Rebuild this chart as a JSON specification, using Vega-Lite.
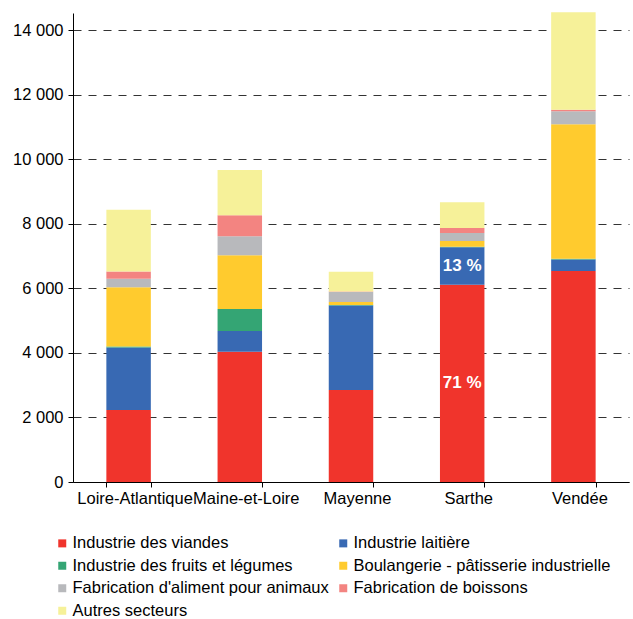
{
  "$schema": "https://vega.github.io/schema/vega-lite/v6.json",
  "width": 556,
  "height": 469,
  "autosize": "none",
  "padding": {"left": 73, "top": 13, "right": 4, "bottom": 137},
  "background": "white",
  "config": {"view": {"stroke": null}, "font": "Liberation Sans"},
  "datasets": {
    "sectors": [
      {"departement": "Loire-Atlantique", "secteur": "Industrie des viandes", "ordre": 1, "emplois": 2230},
      {"departement": "Loire-Atlantique", "secteur": "Industrie laitière", "ordre": 2, "emplois": 1940},
      {"departement": "Loire-Atlantique", "secteur": "Industrie des fruits et légumes", "ordre": 3, "emplois": 30},
      {"departement": "Loire-Atlantique", "secteur": "Boulangerie - pâtisserie industrielle", "ordre": 4, "emplois": 1830},
      {"departement": "Loire-Atlantique", "secteur": "Fabrication d'aliment pour animaux", "ordre": 5, "emplois": 270},
      {"departement": "Loire-Atlantique", "secteur": "Fabrication de boissons", "ordre": 6, "emplois": 225},
      {"departement": "Loire-Atlantique", "secteur": "Autres secteurs", "ordre": 7, "emplois": 1910},
      {"departement": "Maine-et-Loire", "secteur": "Industrie des viandes", "ordre": 1, "emplois": 4036},
      {"departement": "Maine-et-Loire", "secteur": "Industrie laitière", "ordre": 2, "emplois": 640},
      {"departement": "Maine-et-Loire", "secteur": "Industrie des fruits et légumes", "ordre": 3, "emplois": 680},
      {"departement": "Maine-et-Loire", "secteur": "Boulangerie - pâtisserie industrielle", "ordre": 4, "emplois": 1670},
      {"departement": "Maine-et-Loire", "secteur": "Fabrication d'aliment pour animaux", "ordre": 5, "emplois": 590},
      {"departement": "Maine-et-Loire", "secteur": "Fabrication de boissons", "ordre": 6, "emplois": 650},
      {"departement": "Maine-et-Loire", "secteur": "Autres secteurs", "ordre": 7, "emplois": 1400},
      {"departement": "Mayenne", "secteur": "Industrie des viandes", "ordre": 1, "emplois": 2850},
      {"departement": "Mayenne", "secteur": "Industrie laitière", "ordre": 2, "emplois": 2620},
      {"departement": "Mayenne", "secteur": "Industrie des fruits et légumes", "ordre": 3, "emplois": 10},
      {"departement": "Mayenne", "secteur": "Boulangerie - pâtisserie industrielle", "ordre": 4, "emplois": 100},
      {"departement": "Mayenne", "secteur": "Fabrication d'aliment pour animaux", "ordre": 5, "emplois": 310},
      {"departement": "Mayenne", "secteur": "Fabrication de boissons", "ordre": 6, "emplois": 10},
      {"departement": "Mayenne", "secteur": "Autres secteurs", "ordre": 7, "emplois": 610},
      {"departement": "Sarthe", "secteur": "Industrie des viandes", "ordre": 1, "emplois": 6110},
      {"departement": "Sarthe", "secteur": "Industrie laitière", "ordre": 2, "emplois": 1160},
      {"departement": "Sarthe", "secteur": "Industrie des fruits et légumes", "ordre": 3, "emplois": 20},
      {"departement": "Sarthe", "secteur": "Boulangerie - pâtisserie industrielle", "ordre": 4, "emplois": 175},
      {"departement": "Sarthe", "secteur": "Fabrication d'aliment pour animaux", "ordre": 5, "emplois": 250},
      {"departement": "Sarthe", "secteur": "Fabrication de boissons", "ordre": 6, "emplois": 155},
      {"departement": "Sarthe", "secteur": "Autres secteurs", "ordre": 7, "emplois": 800},
      {"departement": "Vendée", "secteur": "Industrie des viandes", "ordre": 1, "emplois": 6535},
      {"departement": "Vendée", "secteur": "Industrie laitière", "ordre": 2, "emplois": 360},
      {"departement": "Vendée", "secteur": "Industrie des fruits et légumes", "ordre": 3, "emplois": 20},
      {"departement": "Vendée", "secteur": "Boulangerie - pâtisserie industrielle", "ordre": 4, "emplois": 4170},
      {"departement": "Vendée", "secteur": "Fabrication d'aliment pour animaux", "ordre": 5, "emplois": 400},
      {"departement": "Vendée", "secteur": "Fabrication de boissons", "ordre": 6, "emplois": 45},
      {"departement": "Vendée", "secteur": "Autres secteurs", "ordre": 7, "emplois": 3025}
    ],
    "labels": [
      {"departement": "Sarthe", "label": "71 %", "position": 3055},
      {"departement": "Sarthe", "label": "13 %", "position": 6690}
    ]
  },
  "layer": [
    {
      "data": {"name": "sectors"},
      "mark": {"type": "bar"},
      "encoding": {
        "x": {
          "field": "departement",
          "type": "nominal",
          "sort": ["Loire-Atlantique", "Maine-et-Loire", "Mayenne", "Sarthe", "Vendée"],
          "scale": {"paddingInner": 0.6, "paddingOuter": 0.3},
          "axis": {
            "title": null,
            "labelAngle": 0,
            "labelFontSize": 16.5,
            "labelColor": "black",
            "labelPadding": 3,
            "labelOffset": 6,
            "labelOverlap": false,
            "labelBound": false,
            "tickBand": "extent",
            "tickColor": "black",
            "tickSize": 5,
            "domainColor": "black",
            "grid": false
          }
        },
        "y": {
          "field": "emplois",
          "type": "quantitative",
          "stack": "zero",
          "scale": {"domain": [0, 14530], "nice": false},
          "axis": {
            "title": null,
            "values": [0, 2000, 4000, 6000, 8000, 10000, 12000, 14000],
            "labelExpr": "replace(format(datum.value, ','), ',', ' ')",
            "labelFontSize": 16.5,
            "labelColor": "black",
            "labelPadding": 5,
            "tickColor": "black",
            "tickSize": 5,
            "domainColor": "black",
            "grid": true,
            "gridColor": "#333333",
            "gridDash": [8, 7],
            "gridWidth": 1
          }
        },
        "color": {
          "field": "secteur",
          "type": "nominal",
          "scale": {
            "domain": ["Industrie des viandes", "Industrie laitière", "Industrie des fruits et légumes", "Boulangerie - pâtisserie industrielle", "Fabrication d'aliment pour animaux", "Fabrication de boissons", "Autres secteurs"],
            "range": ["#F0342C", "#3869B3", "#34A574", "#FFCB2E", "#B8B9BC", "#F38481", "#F6F199"]
          },
          "legend": {
            "title": null,
            "orient": "none",
            "legendX": -19,
            "legendY": 522,
            "direction": "horizontal",
            "columns": 2,
            "columnPadding": 6,
            "rowPadding": 5.5,
            "symbolType": "square",
            "symbolSize": 64,
            "symbolStrokeWidth": 0,
            "labelFontSize": 16.5,
            "labelColor": "black",
            "labelOffset": 2,
            "labelLimit": 400
          }
        },
        "order": {"field": "ordre", "type": "quantitative"}
      }
    },
    {
      "data": {"name": "labels"},
      "mark": {"type": "text", "color": "white", "fontWeight": "bold", "fontSize": 17},
      "encoding": {
        "x": {"field": "departement", "type": "nominal", "sort": ["Loire-Atlantique", "Maine-et-Loire", "Mayenne", "Sarthe", "Vendée"]},
        "y": {"field": "position", "type": "quantitative"},
        "text": {"field": "label", "type": "nominal"}
      }
    }
  ]
}
